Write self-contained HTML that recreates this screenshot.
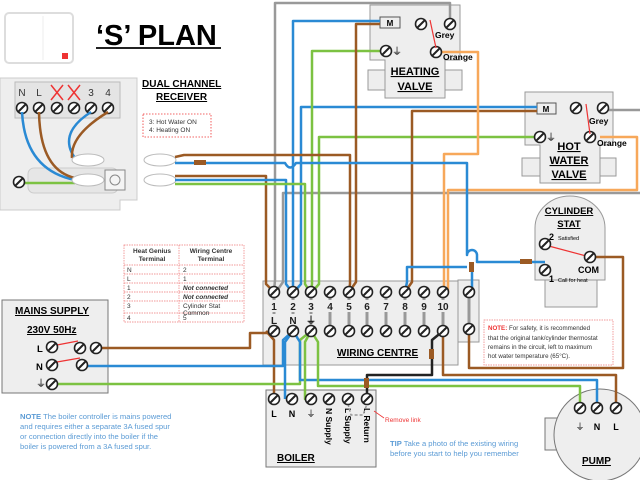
<!DOCTYPE html>
<html><head><meta charset="utf-8"><style>
html,body{margin:0;padding:0;background:#fff}
svg{display:block}
text{font-family:"Liberation Sans",sans-serif}
.b{font-weight:bold}
</style></head><body>
<svg width="640" height="480" viewBox="0 0 640 480" xmlns="http://www.w3.org/2000/svg">
<defs>
<g id="sc"><circle r="5.5" fill="#fff" stroke="#222" stroke-width="1.6"/><line x1="-3.5" y1="3.5" x2="3.5" y2="-3.5" stroke="#222" stroke-width="2"/></g>
</defs>
<!-- thermostat -->
<rect x="5" y="13" width="68" height="50" rx="4" fill="#fff" stroke="#ddd" stroke-width="2"/>
<line x1="43" y1="16" x2="43" y2="60" stroke="#eee"/>
<rect x="62" y="53" width="6" height="6" fill="#e33"/>
<text x="96" y="45" class="b" font-size="29">‘S’ PLAN</text>
<rect x="96" y="47" width="125" height="2" fill="#222"/>
<!-- receiver -->
<path d="M0 78 H137 V200 H120 V210 H0 Z" fill="#eee" stroke="#ccc"/>
<rect x="15" y="82" width="105" height="36" fill="#e4e4e4" stroke="#bbb"/>
<rect x="28" y="168" width="90" height="25" rx="6" fill="#e6e6e6" stroke="#ccc"/>
<rect x="105" y="170" width="20" height="20" fill="#f4f4f4" stroke="#888"/><circle cx="115" cy="180" r="5" fill="none" stroke="#888"/>
<g font-size="10" fill="#333" text-anchor="middle"><text x="22" y="96">N</text><text x="39" y="96">L</text><text x="91" y="96">3</text><text x="108" y="96">4</text></g>
<g stroke="#e33" stroke-width="1.5"><path d="M51 85 L63 100 M63 85 L51 100 M68 85 L80 100 M80 85 L68 100"/></g>
<use href="#sc" x="22" y="108"/><use href="#sc" x="39" y="108"/><use href="#sc" x="57" y="108"/><use href="#sc" x="74" y="108"/><use href="#sc" x="91" y="108"/><use href="#sc" x="108" y="108"/>
<g fill="none" stroke-width="2.5">
<path d="M22 112 Q25 170 75 180" stroke="#2a8ad4"/>
<path d="M39 112 Q40 170 75 178" stroke="#9b5a24"/>
<path d="M91 112 Q55 135 78 162" stroke="#2a8ad4"/>
<path d="M108 112 Q70 135 72 158" stroke="#9b5a24"/>
<path d="M22 183 H75" stroke="#7cc242"/>
</g>
<ellipse cx="88" cy="160" rx="16" ry="6" fill="#fff" stroke="#bbb"/>
<ellipse cx="88" cy="180" rx="16" ry="6" fill="#fff" stroke="#bbb"/>
<use href="#sc" x="19" y="182"/>
<text x="142" y="87" class="b" font-size="10" text-decoration="underline">DUAL CHANNEL</text>
<text x="156" y="100" class="b" font-size="10" text-decoration="underline">RECEIVER</text>
<rect x="143" y="114" width="68" height="23" fill="none" stroke="#e33" stroke-dasharray="1.5,1.5" stroke-width=".8"/>
<text x="149" y="124" font-size="6.5" fill="#333">3: Hot Water ON</text>
<text x="149" y="132" font-size="6.5" fill="#333">4: Heating ON</text>
<ellipse cx="160" cy="160" rx="16" ry="6" fill="#fff" stroke="#bbb"/>
<ellipse cx="160" cy="180" rx="16" ry="6" fill="#fff" stroke="#bbb"/>
<!-- heating valve -->
<path d="M370 5 H460 V60 H445 V98 H385 V60 H370 Z" fill="#eee" stroke="#999"/>
<rect x="368" y="70" width="17" height="20" fill="#eee" stroke="#999"/><rect x="445" y="70" width="17" height="20" fill="#eee" stroke="#999"/>
<rect x="380" y="17" width="20" height="11" fill="#eee" stroke="#555"/><text x="390" y="26" class="b" font-size="8" text-anchor="middle">M</text>
<text x="435" y="38" class="b" font-size="8.5">Grey</text><text x="443" y="60" class="b" font-size="8.5">Orange</text>
<text x="415" y="75" class="b" font-size="11" text-anchor="middle" text-decoration="underline">HEATING</text>
<text x="415" y="90" class="b" font-size="11" text-anchor="middle" text-decoration="underline">VALVE</text>
<!-- HW valve -->
<path d="M525 92 H613 V145 H600 V183 H540 V145 H525 Z" fill="#eee" stroke="#999"/>
<rect x="522" y="158" width="18" height="18" fill="#eee" stroke="#999"/><rect x="600" y="158" width="16" height="18" fill="#eee" stroke="#999"/>
<rect x="537" y="103" width="19" height="11" fill="#eee" stroke="#555"/><text x="546" y="112" class="b" font-size="8" text-anchor="middle">M</text>
<text x="589" y="124" class="b" font-size="8.5">Grey</text><text x="597" y="146" class="b" font-size="8.5">Orange</text>
<text x="569" y="150" class="b" font-size="11" text-anchor="middle" text-decoration="underline">HOT</text>
<text x="569" y="164" class="b" font-size="11" text-anchor="middle" text-decoration="underline">WATER</text>
<text x="569" y="178" class="b" font-size="11" text-anchor="middle" text-decoration="underline">VALVE</text>
<!-- cylinder stat -->
<path d="M535 228 A35 32 0 0 1 605 228 V280 H535 Z" fill="#eee" stroke="#999"/>
<rect x="545" y="280" width="52" height="27" fill="#eee" stroke="#999"/>
<text x="569" y="214" class="b" font-size="9.5" text-anchor="middle" text-decoration="underline">CYLINDER</text>
<text x="569" y="227" class="b" font-size="9.5" text-anchor="middle" text-decoration="underline">STAT</text>
<text x="549" y="240" class="b" font-size="9">2</text><text x="558" y="240" font-size="5.5">Satisfied</text>
<text x="578" y="273" class="b" font-size="9">COM</text>
<text x="549" y="282" class="b" font-size="9">1</text><text x="558" y="282" font-size="5.5">Call for heat</text>
<path d="M545 245 L590 257" stroke="#e33" stroke-width="1.2"/>
<!-- wiring centre -->
<rect x="263" y="281" width="195" height="84" fill="#eee" stroke="#999"/>
<rect x="458" y="280" width="21" height="62" fill="#eee" stroke="#999"/>
<g stroke="#999" stroke-width="3"><path d="M274 292V331M293 292V331M311 292V331M330 292V331M349 292V331M367 292V331M386 292V331M405 292V331M424 292V331M443 292V331M469 292V329"/></g>
<g class="b" font-size="10" text-anchor="middle" fill="#222">
<rect x="268" y="300" width="180" height="12" fill="#eee"/>
<text x="274" y="310">1</text><text x="293" y="310">2</text><text x="311" y="310">3</text><text x="330" y="310">4</text><text x="349" y="310">5</text><text x="367" y="310">6</text><text x="386" y="310">7</text><text x="405" y="310">8</text><text x="424" y="310">9</text><text x="443" y="310">10</text>
<rect x="268" y="314" width="50" height="11" fill="#eee"/>
<text x="274" y="324">L</text><text x="293" y="324">N</text><text x="311" y="324">⏚</text>
</g>
<text x="337" y="356" class="b" font-size="10" text-decoration="underline">WIRING CENTRE</text>
<!-- table -->
<g font-size="6.5" fill="#333">
<rect x="124" y="245" width="120" height="77" fill="#fff" stroke="#e77" stroke-dasharray="1.5,1" stroke-width=".7"/>
<g stroke="#e77" stroke-dasharray="1.5,1" stroke-width=".7"><path d="M179 245V322M124 265H244M124 274H244M124 283H244M124 292H244M124 301H244M124 313H244"/></g>
<text x="152" y="253" class="b" text-anchor="middle">Heat Genius</text><text x="152" y="261" class="b" text-anchor="middle">Terminal</text>
<text x="211" y="253" class="b" text-anchor="middle">Wiring Centre</text><text x="211" y="261" class="b" text-anchor="middle">Terminal</text>
<text x="127" y="272">N</text><text x="183" y="272">2</text>
<text x="127" y="281">L</text><text x="183" y="281">1</text>
<text x="127" y="290">1</text><text x="183" y="290" class="b" font-style="italic">Not connected</text>
<text x="127" y="299">2</text><text x="183" y="299" class="b" font-style="italic">Not connected</text>
<text x="127" y="308">3</text><text x="183" y="308">Cylinder Stat</text><text x="183" y="315">Common</text>
<text x="127" y="320">4</text><text x="183" y="320">5</text>
</g>
<!-- mains -->
<rect x="2" y="300" width="106" height="93" fill="#eee" stroke="#777"/>
<text x="15" y="314" class="b" font-size="10" text-decoration="underline">MAINS SUPPLY</text>
<text x="27" y="333" class="b" font-size="10" text-decoration="underline">230V 50Hz</text>
<text x="37" y="352" class="b" font-size="9.5">L</text><text x="36" y="370" class="b" font-size="9.5">N</text><text x="36" y="387" font-size="10">⏚</text>
<path d="M57 345 L78 341 M57 362 L80 358" stroke="#e33" stroke-width="1.2"/>
<!-- boiler -->
<rect x="266" y="390" width="110" height="77" fill="#eee" stroke="#777"/>
<g class="b" font-size="9" text-anchor="middle"><text x="274" y="417">L</text><text x="292" y="417">N</text><text x="311" y="417" font-weight="normal">⏚</text></g>
<g class="b" font-size="8.5"><text transform="translate(326,408) rotate(90)">N Supply</text><text transform="translate(345,408) rotate(90)">L Supply</text><text transform="translate(364,408) rotate(90)">L Return</text></g>
<text x="277" y="461" class="b" font-size="10" text-decoration="underline">BOILER</text>
<path d="M348 404 L351 415 H363 L367 404" fill="none" stroke="#999" stroke-dasharray="3,2" stroke-width="1.5"/>
<path d="M384 418 L374 411" stroke="#e33" stroke-width=".8"/>
<text x="385" y="422" font-size="6.5" fill="#e33">Remove link</text>
<!-- pump -->
<rect x="545" y="418" width="20" height="32" fill="#eee" stroke="#777"/>
<circle cx="600" cy="435" r="46" fill="#eee" stroke="#777"/>
<text x="580" y="430" font-size="9" text-anchor="middle">⏚</text><text x="597" y="430" class="b" font-size="9" text-anchor="middle">N</text><text x="616" y="430" class="b" font-size="9" text-anchor="middle">L</text>
<text x="582" y="464" class="b" font-size="10" text-decoration="underline">PUMP</text>
<!-- notes -->
<rect x="484" y="320" width="129" height="45" fill="#fff" stroke="#e77" stroke-dasharray="1.5,1" stroke-width=".7"/>
<g font-size="6.2" fill="#333"><text x="488" y="330"><tspan fill="#e33" class="b">NOTE:</tspan> For safety, it is recommended</text><text x="488" y="340">that the original tank/cylinder thermostat</text><text x="488" y="349">remains in the circuit, left to maximum</text><text x="488" y="358">hot water temperature (65°C).</text></g>
<g font-size="7.6" fill="#5b9bd5"><text x="20" y="419"><tspan class="b">NOTE</tspan> The boiler controller is mains powered</text><text x="20" y="429">and requires either a separate 3A fused spur</text><text x="20" y="439">or connection directly into the boiler if the</text><text x="20" y="449">boiler is powered from a 3A fused spur.</text>
<text x="390" y="446"><tspan class="b">TIP</tspan> Take a photo of the existing wiring</text><text x="390" y="456">before you start to help you remember</text></g>
<!-- wires -->
<g fill="none" stroke-width="2.5" stroke-linejoin="round">
<path d="M450 24 V3 H275 V280 L274 292" stroke="#999"/>
<path d="M640 110 H603" stroke="#999"/>
<path d="M640 193 H283 V282 L276 292" stroke="#999"/>
<path d="M380 21 H293 V284 L293 292" stroke="#2a8ad4"/>
<path d="M537 107 H301 V284 L294 292" stroke="#2a8ad4"/>
<path d="M386 51 H312 V284 L311 292" stroke="#7cc242"/>
<path d="M540 137 H319 V284 L312 292" stroke="#7cc242"/>
<path d="M380 24 H356 V282 L349 292" stroke="#9b5a24"/>
<path d="M537 111 H412 V282 L405 292" stroke="#9b5a24"/>
<path d="M436 52 H478 V154 H444 V292" stroke="#f7a85a"/>
<path d="M600 137 H637 V190 H448 V292" stroke="#f7a85a"/>
<path d="M175 157 L184 155 H350 V284 L349 292" stroke="#9b5a24"/>
<path d="M175 163 H285 Q290 172 296 163 H320" stroke="#2a8ad4"/>
<path d="M320 163 H467 V255 A5 5 0 0 1 477 255 V262 H545" stroke="#2a8ad4"/>
<path d="M175 176 H266 V284 L274 292" stroke="#9b5a24"/>
<path d="M175 180 H286 V284 L292 292" stroke="#2a8ad4"/>
<path d="M175 184 H305 V284 L310 292" stroke="#7cc242"/>
<path d="M472 262 V292" stroke="#2a8ad4"/>
<path d="M467 267 H407 V282 L405 292" stroke="#2a8ad4"/>
<path d="M590 257 H623 V368 H469 V329" stroke="#9b5a24"/>
<path d="M96 348 H250 V333 H274" stroke="#9b5a24"/>
<path d="M274 399 V340 L266 331" stroke="#9b5a24"/>
<path d="M82 366 H283 V340 L293 331" stroke="#2a8ad4"/>
<path d="M52 384 H300 V340 L311 331" stroke="#7cc242"/>
<path d="M293 331 L285 342 V399" stroke="#2a8ad4"/>
<path d="M293 331 L300 342 V380 H597 V408" stroke="#2a8ad4"/>
<path d="M311 331 L305 342 V399 L311 399" stroke="#7cc242"/>
<path d="M311 331 L318 342 V386 H580 V408" stroke="#7cc242"/>
<path d="M443 331 V375 H616 V408" stroke="#9b5a24"/>
<path d="M443 331 L432 340 V375 H367 V399" stroke="#222"/>
</g>
<g fill="#9b5a24"><rect x="194" y="160" width="12" height="5"/><rect x="429" y="349" width="5" height="10"/><rect x="364" y="378" width="5" height="10"/><rect x="520" y="259" width="12" height="5"/><rect x="469" y="262" width="5" height="10"/></g>
<!-- screws -->
<g>
<use href="#sc" x="421" y="24"/><use href="#sc" x="450" y="24"/><use href="#sc" x="436" y="52"/><use href="#sc" x="386" y="51"/>
<use href="#sc" x="576" y="108"/><use href="#sc" x="603" y="108"/><use href="#sc" x="590" y="137"/><use href="#sc" x="540" y="137"/>
<use href="#sc" x="545" y="244"/><use href="#sc" x="590" y="257"/><use href="#sc" x="545" y="270"/>
<use href="#sc" x="274" y="292"/><use href="#sc" x="293" y="292"/><use href="#sc" x="311" y="292"/><use href="#sc" x="330" y="292"/><use href="#sc" x="349" y="292"/><use href="#sc" x="367" y="292"/><use href="#sc" x="386" y="292"/><use href="#sc" x="405" y="292"/><use href="#sc" x="424" y="292"/><use href="#sc" x="443" y="292"/>
<use href="#sc" x="274" y="331"/><use href="#sc" x="293" y="331"/><use href="#sc" x="311" y="331"/><use href="#sc" x="330" y="331"/><use href="#sc" x="349" y="331"/><use href="#sc" x="367" y="331"/><use href="#sc" x="386" y="331"/><use href="#sc" x="405" y="331"/><use href="#sc" x="424" y="331"/><use href="#sc" x="443" y="331"/>
<use href="#sc" x="469" y="292"/><use href="#sc" x="469" y="329"/>
<use href="#sc" x="52" y="347"/><use href="#sc" x="80" y="348"/><use href="#sc" x="96" y="348"/><use href="#sc" x="52" y="365"/><use href="#sc" x="82" y="365"/><use href="#sc" x="52" y="384"/>
<use href="#sc" x="274" y="399"/><use href="#sc" x="292" y="399"/><use href="#sc" x="311" y="399"/><use href="#sc" x="329" y="399"/><use href="#sc" x="348" y="399"/><use href="#sc" x="367" y="399"/>
<use href="#sc" x="580" y="408"/><use href="#sc" x="597" y="408"/><use href="#sc" x="616" y="408"/>
</g>
<path d="M430 20 L436 48 M586 104 L590 134" stroke="#e33" stroke-width="1.2"/>
<text x="392" y="55" font-size="10">⏚</text><text x="546" y="141" font-size="10">⏚</text>
</svg>
</body></html>
